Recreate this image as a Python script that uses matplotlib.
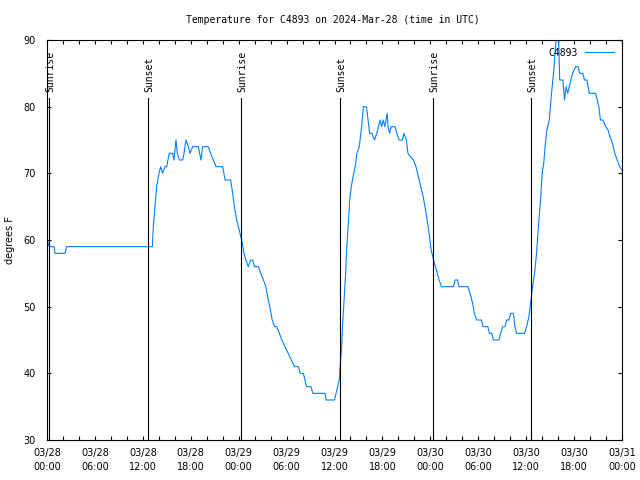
import numpy as np
import pandas as pd
import matplotlib
matplotlib.use("Agg")
import matplotlib.pyplot as plt
import matplotlib.dates as mdates

# Station temperature readings (hours after 2024-03-28 00:00 UTC, degrees F)
start = pd.Timestamp("2024-03-28 00:00")
hours = [0.0, 0.29, 0.88, 1.0, 2.25, 2.46, 13.19, 13.31, 13.52, 13.73, 14.02, 14.23,
         14.48, 14.77, 14.98, 15.31, 15.73, 15.90, 16.15, 16.32, 16.57, 16.99, 17.15,
         17.40, 17.70, 17.91, 18.24, 18.95, 19.28, 19.49, 20.20, 20.49, 20.83, 21.17,
         22.0, 22.3, 23.0, 23.25, 23.46, 23.75, 24.17, 24.38, 24.67, 24.9, 25.2, 25.5,
         25.75, 25.96, 26.47, 26.76, 27.1, 27.4, 27.7, 27.9, 28.2, 28.5, 28.76, 29.1,
         29.4, 29.8, 30.2, 30.6, 31.0, 31.5, 31.7, 32.1, 32.3, 32.5, 33.05, 33.3, 34.8,
         34.95, 36.0, 36.2, 36.4, 36.6, 36.7, 36.9, 37.0, 37.2, 37.4, 37.5, 37.7, 37.9,
         38.1, 38.4, 38.6, 38.8, 39.1, 39.4, 39.6, 40.0, 40.2, 40.4, 40.66, 41.0, 41.3,
         41.5, 41.7, 41.9, 42.1, 42.3, 42.6, 42.7, 42.9, 43.1, 43.6, 43.8, 44.1, 44.5,
         44.7, 45.0, 45.2, 45.5, 45.9, 46.2, 46.5, 46.8, 47.1, 47.4, 47.6, 47.9, 48.1,
         48.4, 48.75, 49.1, 49.4, 50.9, 51.1, 51.4, 51.6, 52.7, 52.97, 53.3, 53.5, 53.8,
         54.4, 54.6, 55.2, 55.4, 55.7, 55.9, 56.6, 56.8, 57.05, 57.35, 57.55, 57.85,
         58.05, 58.4, 58.6, 58.8, 59.8, 60.05, 60.35, 60.6, 60.8, 61.1, 61.3, 61.5,
         61.8, 62.0, 62.2, 62.4, 62.6, 62.9, 63.1, 63.3, 63.5, 63.65, 63.8, 64.05, 64.2,
         64.6, 64.8, 65.0, 65.2, 65.4, 65.6, 65.8, 66.2, 66.5, 66.7, 67.1, 67.3, 67.6,
         67.9, 68.7, 68.9, 69.1, 69.3, 69.6, 69.96, 70.25, 70.5, 70.8, 71.1, 71.4, 71.7,
         72.0]
temps = [60, 59, 59, 58, 58, 59, 59, 62, 65, 68, 70, 71,
         70, 71, 71, 73, 73, 72, 75, 73, 72, 72, 73,
         75, 74, 73, 74, 74, 72, 74, 74, 73, 72, 71,
         71, 69, 69, 67, 65, 63, 61, 60, 58, 57, 56, 57,
         57, 56, 56, 55, 54, 53, 51, 50, 48, 47, 47, 46,
         45, 44, 43, 42, 41, 41, 40, 40, 39, 38, 38, 37, 37,
         36, 36, 37, 38, 39, 41, 44, 47, 51, 55, 58, 62, 66,
         68, 70, 71, 73, 74, 77, 80, 80, 78, 76, 76, 75, 76,
         77, 78, 77, 78, 77, 79, 77, 76, 77, 77, 76, 75, 75,
         76, 75, 73, 72.5, 72, 71, 69.5, 68, 66.5, 64.5, 63, 60.5, 58.5,
         57, 55.5, 54, 53, 53, 54, 54, 53, 53, 52, 50.5, 49, 48,
         48, 47, 47, 46, 46, 45, 45, 46, 47, 47, 48, 48,
         49, 49, 47, 46, 46, 47, 48.5, 51, 53, 55.5, 58, 61.5,
         66, 70, 71.5, 74.5, 76.5, 78, 81, 83.5, 86, 88.5, 91, 91, 84,
         84, 81, 83, 82, 83, 84, 85, 86, 86, 85, 85, 84, 84,
         82, 82, 81, 80, 78, 78, 77, 76.5, 75.5, 74.5, 73, 72, 71,
         70.5]

sun_names = ["Sunrise", "Sunset", "Sunrise", "Sunset", "Sunrise", "Sunset"]
sun_hours = [0.25, 12.65, 24.3, 36.65, 48.35, 60.6]

times = start + pd.to_timedelta(hours, unit="h")

fig = plt.figure(figsize=(6.4, 4.8), dpi=100)
ax = fig.add_axes([47 / 640, 40 / 480, 575 / 640, 400 / 480])

ax.plot(times, temps, color="#0080ff", lw=0.8, label="C4893")

# sunrise / sunset markers
for name, h in zip(sun_names, sun_hours):
    t = start + pd.Timedelta(hours=h)
    ax.plot([t, t], [30, 81.3], color="black", lw=0.8)
    ax.annotate(name, (t, 82.2), xytext=(1.5, 0), textcoords="offset pixels",
                rotation=90, ha="center", va="bottom", fontsize=7,
                family="DejaVu Sans Mono")

ax.set_xlim(start, start + pd.Timedelta(hours=72))
ax.set_ylim(30, 90)
ax.set_yticks(range(30, 91, 10))
ax.xaxis.set_major_locator(mdates.HourLocator(byhour=[0, 6, 12, 18]))
ax.xaxis.set_minor_locator(mdates.HourLocator(byhour=range(0, 24, 2)))
ax.xaxis.set_major_formatter(mdates.DateFormatter("%m/%d\n%H:%M"))
ax.tick_params(which="both", direction="in", top=True, right=True,
               length=3, width=0.8, labelsize=7)
ax.tick_params(axis="x", pad=6)
ax.tick_params(axis="y", pad=8)
for tick in ax.xaxis.get_major_ticks():
    tick.label1.set_linespacing(1.5)
for s in ax.spines.values():
    s.set_linewidth(0.8)

ax.legend(loc="upper right", frameon=False, markerfirst=False, handlelength=3,
          prop={"family": "DejaVu Sans Mono", "size": 7}, borderaxespad=0.4)

fig.text(333 / 640, 1 - 20 / 480, "Temperature for C4893 on 2024-Mar-28 (time in UTC)",
         ha="center", va="center", fontsize=7, family="DejaVu Sans Mono")
fig.text(10 / 640, 0.5, "degrees F", rotation=90, ha="center", va="center", fontsize=7)

fig.savefig("out.png", dpi=100)
